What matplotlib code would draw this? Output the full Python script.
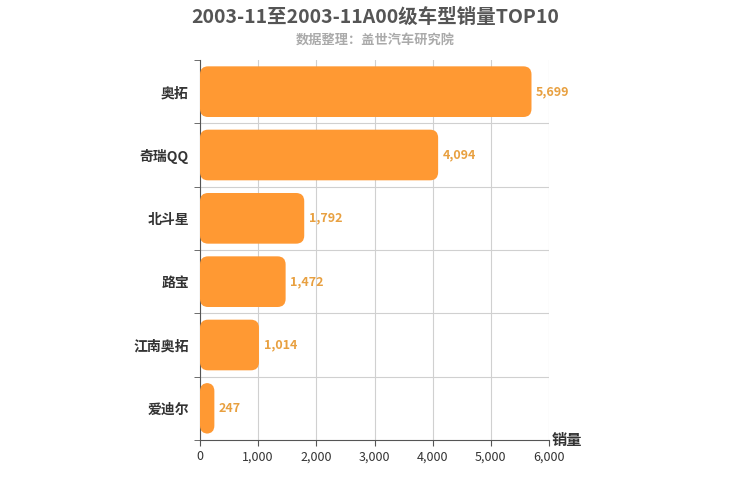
import matplotlib.pyplot as plt
import matplotlib.patches as mpatches

plt.rcParams['font.family'] = ['Noto Sans CJK SC', 'DejaVu Sans']

categories = ['奥拓', '奇瑞QQ', '北斗星', '路宝', '江南奥拓', '爱迪尔']
sales = [5699, 4094, 1792, 1472, 1014, 247]
xticks = [0, 1000, 2000, 3000, 4000, 5000, 6000]

fig = plt.figure(figsize=(7.5, 5), dpi=100)
ax = fig.add_axes([200/750, 0.12, 349/750, 0.76])

n = len(categories)
ax.set_xlim(0, 6000)
ax.set_ylim(n, 0)
for i, v in enumerate(sales):
    y = i + 0.1
    bar = mpatches.FancyBboxPatch((0, y), v, 0.8,
                                  boxstyle='round,pad=0,rounding_size=140',
                                  mutation_aspect=0.00092,
                                  fc='#FF9933', ec='none', zorder=3)
    ax.add_patch(bar)
    ax.text(v + 80, i + 0.5, f'{v:,}', va='center', ha='left',
            color='#E8A040', fontsize=9, fontweight='bold', zorder=4)

ax.set_yticks([i + 0.5 for i in range(n)])
ax.set_yticklabels(categories, fontsize=10, fontweight='bold', color='#333333')
ax.set_yticks(range(n + 1), minor=True)
ax.tick_params(axis='y', which='major', length=0, pad=8)
ax.tick_params(axis='y', which='minor', length=4, color='#555555')
ax.set_xticks(xticks)
ax.set_xticklabels([f'{t:,}' for t in xticks], fontsize=9, color='#333333')
ax.tick_params(axis='x', length=4, color='#555555')

for t in xticks:
    ax.axvline(t, color='#d0d0d0', lw=0.8, zorder=0)
for b in range(1, n):
    ax.axhline(b, color='#d0d0d0', lw=0.8, zorder=0)

for s in ['top', 'right']:
    ax.spines[s].set_visible(False)
for s in ['left', 'bottom']:
    ax.spines[s].set_color('#555555')

ax.text(6000 * 1.05, n + 0.0, '销量', fontsize=11, fontweight='bold',
        color='#333333', ha='center', va='center')

fig.text(0.5, 0.965, '2003-11至2003-11A00级车型销量TOP10', ha='center', va='center',
         fontsize=14, fontweight='bold', color='#555555')
fig.text(0.5, 0.918, '数据整理：盖世汽车研究院', ha='center', va='center',
         fontsize=9.5, fontweight='bold', color='#aaaaaa')

fig.savefig('out.png', dpi=100)
